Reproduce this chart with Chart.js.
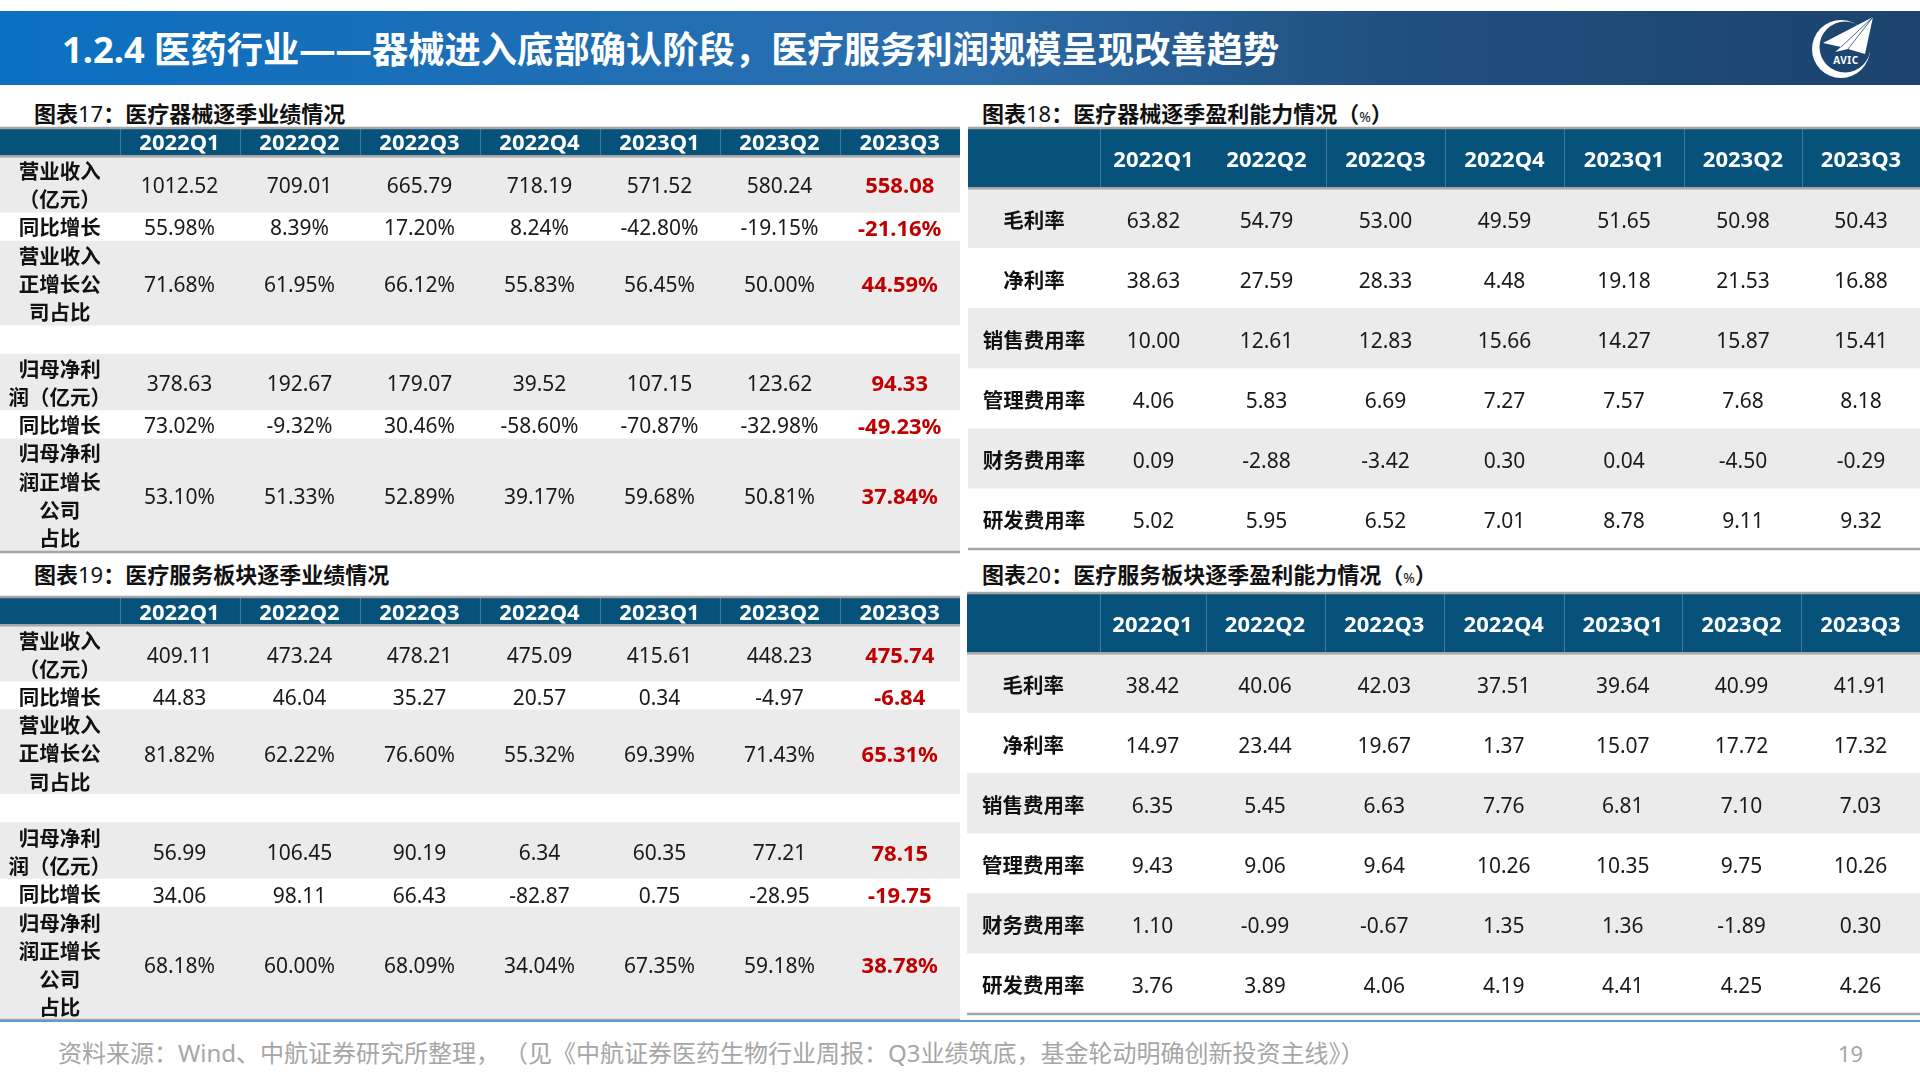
<!DOCTYPE html>
<html lang="zh-CN">
<head>
<meta charset="utf-8">
<title>1.2.4 医药行业</title>
<script src="https://cdn.jsdelivr.net/npm/chart.js@4"></script>
<style>
  html, body { margin: 0; background: #fff; }
  body { position: relative; width: 1920px; height: 1080px; overflow: hidden;
    font-family: "Noto Sans", "Noto Sans CJK SC", sans-serif; }
  #banner { position: absolute; left: 0; top: 11px; width: 1920px; height: 74px;
    background: linear-gradient(90deg, #0b70c2 0%, #2c6dac 50%, #20507f 72%, #1b436e 100%); }
  #banner h1 { position: absolute; left: 62px; top: 0; margin: 0; line-height: 76px; font-size: 36.3px;
    font-weight: 700; color: #fff; white-space: nowrap; }
  #logo { position: absolute; left: 1800px; top: 11px; }
  .caption { position: absolute; font-size: 22px; line-height: 30px; font-weight: 700; color: #111; white-space: nowrap; }
  .caption span { font-weight: 400; }
  .caption small { font-size: 14px; font-weight: 400; }
  canvas { position: absolute; display: block; }
  #blueLine { position: absolute; left: 0; top: 1020px; width: 1920px; height: 2px; background: #5b9bd5; }
  #source { position: absolute; left: 58px; top: 1036px; font-size: 24px; line-height: 34px; color: #a6a6a6; white-space: nowrap; }
  #source span { margin-left: 16px; }
  #pageNo { position: absolute; left: 1838px; top: 1036px; font-size: 22px; line-height: 34px; color: #a6a6a6; }
</style>
</head>
<body>
<div id="banner"><h1>1.2.4 医药行业——器械进入底部确认阶段，医疗服务利润规模呈现改善趋势</h1></div>
<svg id="logo" width="80" height="74" viewBox="1800 11 80 74">
  <circle cx="1841" cy="49" r="29" fill="#fff"/>
  <circle cx="1845" cy="47" r="25.5" fill="#1c4570"/>
  <polygon points="1873,17 1823,43 1841,47 1835,52 1848,49 1865,54" fill="#fff"/>
  <polyline points="1873,17 1841,47" fill="none" stroke="#1c4570" stroke-width="0.8"/>
  <polyline points="1873,17 1848,49" fill="none" stroke="#1c4570" stroke-width="0.8"/>
  <text x="1846" y="64" text-anchor="middle" font-size="10" font-weight="700" letter-spacing="0.6" fill="#fff" font-family="Noto Sans">AVIC</text>
</svg>

<div class="caption" style="left:34px;top:98px">图表<span>17</span>：医疗器械逐季业绩情况</div>
<div class="caption" style="left:982px;top:98px">图表<span>18</span>：医疗器械逐季盈利能力情况（<small>%</small>）</div>
<div class="caption" style="left:34px;top:559px">图表<span>19</span>：医疗服务板块逐季业绩情况</div>
<div class="caption" style="left:982px;top:559px">图表<span>20</span>：医疗服务板块逐季盈利能力情况（<small>%</small>）</div>

<canvas id="table17"></canvas>
<canvas id="table18"></canvas>
<canvas id="table19"></canvas>
<canvas id="table20"></canvas>

<div id="blueLine"></div>
<div id="source">资料来源：Wind、中航证券研究所整理，<span>（见《中航证券医药生物行业周报：Q3业绩筑底，基金轮动明确创新投资主线》）</span></div>
<div id="pageNo">19</div>

<script>
  const quarters = ["2022Q1", "2022Q2", "2022Q3", "2022Q4", "2023Q1", "2023Q2", "2023Q3"];

  // row labels, one entry per printed line
  const perfLabels = [["营业收入", "（亿元）"], ["同比增长"], ["营业收入", "正增长公", "司占比"], [""],
    ["归母净利", "润（亿元）"], ["同比增长"], ["归母净利", "润正增长", "公司", "占比"]];
  const marginLabels = [["毛利率"], ["净利率"], ["销售费用率"], ["管理费用率"], ["财务费用率"], ["研发费用率"]];

  /* ---------- 图表17 ---------- */
  const deviceRevenue = [1012.52, 709.01, 665.79, 718.19, 571.52, 580.24, 558.08];
  const deviceRevenueYoy = [55.98, 8.39, 17.20, 8.24, -42.80, -19.15, -21.16];
  const deviceRevenueShare = [71.68, 61.95, 66.12, 55.83, 56.45, 50.00, 44.59];
  const deviceProfit = [378.63, 192.67, 179.07, 39.52, 107.15, 123.62, 94.33];
  const deviceProfitYoy = [73.02, -9.32, 30.46, -58.60, -70.87, -32.98, -49.23];
  const deviceProfitShare = [53.10, 51.33, 52.89, 39.17, 59.68, 50.81, 37.84];

  /* ---------- 图表18 ---------- */
  const deviceGross = [63.82, 54.79, 53.00, 49.59, 51.65, 50.98, 50.43];
  const deviceNet = [38.63, 27.59, 28.33, 4.48, 19.18, 21.53, 16.88];
  const deviceSelling = [10.00, 12.61, 12.83, 15.66, 14.27, 15.87, 15.41];
  const deviceAdmin = [4.06, 5.83, 6.69, 7.27, 7.57, 7.68, 8.18];
  const deviceFinance = [0.09, -2.88, -3.42, 0.30, 0.04, -4.50, -0.29];
  const deviceRnd = [5.02, 5.95, 6.52, 7.01, 8.78, 9.11, 9.32];

  /* ---------- 图表19 ---------- */
  const serviceRevenue = [409.11, 473.24, 478.21, 475.09, 415.61, 448.23, 475.74];
  const serviceRevenueYoy = [44.83, 46.04, 35.27, 20.57, 0.34, -4.97, -6.84];
  const serviceRevenueShare = [81.82, 62.22, 76.60, 55.32, 69.39, 71.43, 65.31];
  const serviceProfit = [56.99, 106.45, 90.19, 6.34, 60.35, 77.21, 78.15];
  const serviceProfitYoy = [34.06, 98.11, 66.43, -82.87, 0.75, -28.95, -19.75];
  const serviceProfitShare = [68.18, 60.00, 68.09, 34.04, 67.35, 59.18, 38.78];

  /* ---------- 图表20 ---------- */
  const serviceGross = [38.42, 40.06, 42.03, 37.51, 39.64, 40.99, 41.91];
  const serviceNet = [14.97, 23.44, 19.67, 1.37, 15.07, 17.72, 17.32];
  const serviceSelling = [6.35, 5.45, 6.63, 7.76, 6.81, 7.10, 7.03];
  const serviceAdmin = [9.43, 9.06, 9.64, 10.26, 10.35, 9.75, 10.26];
  const serviceFinance = [1.10, -0.99, -0.67, 1.35, 1.36, -1.89, 0.30];
  const serviceRnd = [3.76, 3.89, 4.06, 4.19, 4.41, 4.25, 4.26];

  // layout, kept apart from the data: column edges in page pixels
  const perfEdges = [0, 119.5, 239.5, 359.5, 479.5, 599.5, 719.5, 839.5, 960];
  const margin18Edges = [968, 1100, 1207, 1326, 1445, 1564, 1684, 1802, 1920];
  const margin20Edges = [967, 1099.5, 1205.5, 1324.5, 1444, 1563.5, 1682, 1801, 1920];

  const FONT = '"Noto Sans", "Noto Sans CJK SC", sans-serif';
  const HEADER = "#06527b", BAND = "#ebebeb", RULE = "#a6a6a6", RED = "#c00000";
  const PAD_TOP = 3, PAD_BOTTOM = 3;

  // cell text and rules are painted on top of the bars, placed through the chart's scales
  function tablePainter(rows, edges, rowSpans, textDrop, noDivider) {
    return {
      id: "tablePainter",
      afterDatasetsDraw(chart) {
        const { ctx, scales: { x, y } } = chart;
        const { left, right, top, bottom } = chart.chartArea;
        const rowY = (r) => {
          const s = rowSpans[r];
          return (y.getPixelForValue(s.start) + y.getPixelForValue(s.start + s.lines - 1)) / 2;
        };
        const colX = (c) => x.getPixelForValue((edges[c] + edges[c + 1]) / 2);
        const step = y.getPixelForValue(1) - y.getPixelForValue(0);
        const headerBottom = top + step;

        ctx.save();
        // header dividers
        ctx.strokeStyle = "#3f7a9e";
        ctx.lineWidth = 1;
        for (let c = 1; c < edges.length - 1; c++) {
          if (c === noDivider) continue;
          const px = Math.round(x.getPixelForValue(edges[c])) + 0.5;
          ctx.beginPath(); ctx.moveTo(px, top); ctx.lineTo(px, headerBottom); ctx.stroke();
        }
        // grey rules
        ctx.strokeStyle = RULE;
        ctx.lineWidth = 2.5;
        [top, headerBottom, bottom].forEach((py) => {
          ctx.beginPath(); ctx.moveTo(left, py); ctx.lineTo(right, py); ctx.stroke();
        });

        ctx.textAlign = "center";
        ctx.textBaseline = "middle";
        ctx.fillStyle = "#fff";
        ctx.font = "700 22px " + FONT;
        quarters.forEach((q, c) => ctx.fillText(q, colX(c + 1), rowY(0) + textDrop));

        rows.forEach((row, r) => {
          const cy = rowY(r + 1) + textDrop + 1;
          ctx.fillStyle = "#111";
          ctx.font = "700 20.5px " + FONT;
          row.label.forEach((line, i) => {
            ctx.fillText(line, colX(0), cy + (i - (row.label.length - 1) / 2) * step);
          });
          if (!row.values) return;
          row.values.forEach((v, c) => {
            const red = row.redLast && c === row.values.length - 1;
            ctx.fillStyle = red ? RED : "#1a1a1a";
            ctx.font = red ? "700 22px " + FONT : "400 21px " + FONT;
            ctx.fillText(v.toFixed(2) + (row.unit || ""), colX(c + 1), cy);
          });
        });
        ctx.restore();
      },
    };
  }

  function drawTable(id, box, edges, rows, noDivider) {
    const canvas = document.getElementById(id);
    canvas.width = box.width;
    canvas.height = box.height + PAD_TOP + PAD_BOTTOM;
    canvas.style.left = box.left + "px";
    canvas.style.top = box.top - PAD_TOP + "px";

    // y axis runs over printed lines: a row of n lines covers n categories, line 0 is the header
    const rowSpans = [{ start: 0, lines: 1 }];
    const lineFill = [HEADER];
    let next = 1;
    rows.forEach((row, r) => {
      const lines = row.label.length;
      rowSpans.push({ start: next, lines });
      for (let i = 0; i < lines; i++) lineFill.push(r % 2 === 0 ? BAND : "#fff");
      next += lines;
    });
    const lineIds = lineFill.map((_, i) => "line" + i);

    const datasets = edges.slice(0, -1).map((left, c) => ({
      data: lineIds.map(() => [left, edges[c + 1]]),
      backgroundColor: lineFill,
      borderWidth: 0,
      grouped: false,
      barPercentage: 1,
      categoryPercentage: 1,
    }));

    new Chart(canvas, {
      type: "bar",
      data: { labels: lineIds, datasets },
      plugins: [tablePainter(rows, edges, rowSpans, box.textDrop, noDivider)],
      options: {
        indexAxis: "y",
        responsive: false,
        animation: false,
        events: [],
        layout: { padding: { top: PAD_TOP, bottom: PAD_BOTTOM } },
        plugins: { legend: { display: false }, tooltip: { enabled: false } },
        scales: {
          x: { type: "linear", min: edges[0], max: edges[edges.length - 1], display: false },
          y: { type: "category", display: false },
        },
      },
    });
  }

  const perfRows = (rev, revYoy, revShare, profit, profitYoy, profitShare, yoyUnit) => [
    { label: perfLabels[0], values: rev, redLast: true },
    { label: perfLabels[1], values: revYoy, unit: yoyUnit, redLast: true },
    { label: perfLabels[2], values: revShare, unit: "%", redLast: true },
    { label: perfLabels[3] },
    { label: perfLabels[4], values: profit, redLast: true },
    { label: perfLabels[5], values: profitYoy, unit: yoyUnit, redLast: true },
    { label: perfLabels[6], values: profitShare, unit: "%", redLast: true },
  ];
  const marginRows = (series) => series.map((values, i) => ({ label: marginLabels[i], values }));

  drawTable("table17", { left: 0, top: 128, width: 960, height: 424, textDrop: 1.5 }, perfEdges,
    perfRows(deviceRevenue, deviceRevenueYoy, deviceRevenueShare, deviceProfit, deviceProfitYoy, deviceProfitShare, "%"));
  drawTable("table19", { left: 0, top: 597, width: 960, height: 423, textDrop: 2.5 }, perfEdges,
    perfRows(serviceRevenue, serviceRevenueYoy, serviceRevenueShare, serviceProfit, serviceProfitYoy, serviceProfitShare, ""));
  drawTable("table18", { left: 968, top: 128, width: 952, height: 421, textDrop: 2.5 }, margin18Edges,
    marginRows([deviceGross, deviceNet, deviceSelling, deviceAdmin, deviceFinance, deviceRnd]), 2);
  drawTable("table20", { left: 967, top: 593, width: 953, height: 421, textDrop: 2.5 }, margin20Edges,
    marginRows([serviceGross, serviceNet, serviceSelling, serviceAdmin, serviceFinance, serviceRnd]));
</script>
</body>
</html>
